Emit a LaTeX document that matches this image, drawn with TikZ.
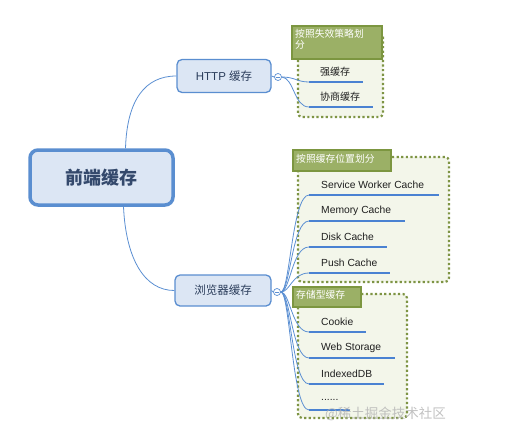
\documentclass[tikz,border=0pt]{standalone}
\usepackage{fontspec}
\setmainfont{Liberation Sans}
\newfontfamily\cjk{Noto Sans CJK SC}
\definecolor{nodeblue}{HTML}{5A8ED0}
\definecolor{nodefill}{HTML}{DCE6F4}
\definecolor{roottext}{HTML}{34496C}
\definecolor{linkblue}{HTML}{5B8FD2}
\definecolor{ulblue}{HTML}{4A82D2}
\definecolor{hdrfill}{HTML}{9BB066}
\definecolor{hdrborder}{HTML}{7C9640}
\definecolor{framecol}{HTML}{7E9444}
\definecolor{framefill}{HTML}{F3F6EA}
\tikzset{
  rootbox/.style={draw=nodeblue, fill=nodefill, line width=3.5pt, rounded corners=8pt,
    minimum width=143pt, minimum height=55pt, text=roottext,
    font=\cjk\fontsize{18}{20}\selectfont\bfseries, inner sep=0pt},
  childbox/.style={draw=nodeblue, fill=nodefill, line width=1.3pt, rounded corners=5pt,
    text=roottext!85!black, font=\fontsize{11.5}{13}\selectfont, inner sep=0pt},
  collapse/.style={circle, draw=linkblue, fill=white, line width=0.7pt, minimum size=7pt, inner sep=0pt},
  conn/.style={draw=linkblue, line width=0.8pt},
  uline/.style={draw=ulblue, line width=2.6pt},
  framebox/.style={draw=framecol, fill=framefill, line width=2.2pt, dash pattern=on 2.2pt off 2.4pt, rounded corners=4pt},
  hdr/.style={draw=hdrborder, fill=hdrfill, line width=2.2pt},
  hdrtext/.style={text=white, font=\cjk\fontsize{9.8}{11}\selectfont, inner sep=0pt, anchor=north west, align=left},
  item/.style={anchor=west, text=black!88, font=\fontsize{10.3}{12}\selectfont, inner sep=0pt},
}
\begin{document}
\begin{tikzpicture}[x=1pt, y=-1pt]
\useasboundingbox (0,0) rectangle (529,436);
% frames
\draw[framebox] (298,33) rectangle (383,117);
\draw[framebox] (298,157) rectangle (449,282);
\draw[framebox] (298,294) rectangle (407,418);
% headers
\draw[hdr] (292,26) rectangle (382,59);
\node[hdrtext, text width=84pt] (h1) at (295,29) {按照失效策略划\\分};
\draw[hdr] (293,150) rectangle (391,171);
\node[hdrtext] (h2) at (296,154) {按照缓存位置划分};
\draw[hdr] (293,287) rectangle (361,307);
\node[hdrtext] (h3) at (296,290.5) {存储型缓存};
% main nodes
\node[rootbox] (root) at (101.5,177.5) {前端缓存};
\node[childbox, minimum width=94pt, minimum height=33pt] (http) at (224,76) {HTTP {\cjk 缓存}};
\node[childbox, minimum width=96pt, minimum height=31pt] (browser) at (223,290.5) {{\cjk 浏览器缓存}};
% collapse buttons
\node[collapse] (c1) at (278,77) {};
\node[collapse] (c2) at (277,292) {};
\draw[linkblue, line width=0.6pt] ([xshift=-2pt]c1.center) -- ([xshift=2pt]c1.center);
\draw[linkblue, line width=0.6pt] ([xshift=-2pt]c2.center) -- ([xshift=2pt]c2.center);
% item anchor coordinates (start of underlines)
\coordinate (u1) at (309,82);
\coordinate (u2) at (309,107);
\coordinate (v1) at (309,195);
\coordinate (v2) at (309,221);
\coordinate (v3) at (309,247);
\coordinate (v4) at (309,273);
\coordinate (w1) at (309,332);
\coordinate (w2) at (309,358);
\coordinate (w3) at (309,384);
\coordinate (w4) at (309,410);
% connectors
\draw[conn] ([xshift=24pt]root.north) .. controls (127,100) and (145,76) .. (http.west);
\draw[conn] ([xshift=22pt]root.south) .. controls (126,260) and (145,290.5) .. (browser.west);
\draw[conn] (http.east) -- (c1.west);
\draw[conn] (browser.east) -- (c2.west);
\draw[conn] (c1.east) .. controls (295,77) and (297,82) .. (u1);
\draw[conn] (c1.east) .. controls (294,78) and (294,107) .. (u2);
\foreach \t/\yy in {v1/195,v2/221,v3/247,v4/273,w1/332,w2/358,w3/384,w4/410}{
  \draw[conn] (c2.east) .. controls (290,292) and (292,\yy) .. (\t);
}
% underlines
\draw[uline] (u1) -- (363,82);
\draw[uline] (u2) -- (373,107);
\draw[uline] (v1) -- (439,195);
\draw[uline] (v2) -- (405,221);
\draw[uline] (v3) -- (387,247);
\draw[uline] (v4) -- (390,273);
\draw[uline] (w1) -- (366,332);
\draw[uline] (w2) -- (395,358);
\draw[uline] (w3) -- (384,384);
\draw[uline] (w4) -- (350,410);
% item texts
\node[item, font=\cjk\fontsize{10}{12}\selectfont] (i1) at (320,72) {强缓存};
\node[item, font=\cjk\fontsize{10}{12}\selectfont] (i2) at (320,97) {协商缓存};
\node[item] (j1) at (321,185) {Service Worker Cache};
\node[item] (j2) at (321,211) {Memory Cache};
\node[item] (j3) at (321,237) {Disk Cache};
\node[item] (j4) at (321,263) {Push Cache};
\node[item] (k1) at (321,322) {Cookie};
\node[item] (k2) at (321,348) {Web Storage};
\node[item] (k3) at (321,374) {IndexedDB};
\node[item] (k4) at (321,400) {......};
% watermark
\node[anchor=west, text=black!30, font=\cjk\fontsize{13.5}{15}\selectfont, inner sep=0pt, opacity=0.8] (wm) at (325,414) {@稀土掘金技术社区};
\end{tikzpicture}
\end{document}
